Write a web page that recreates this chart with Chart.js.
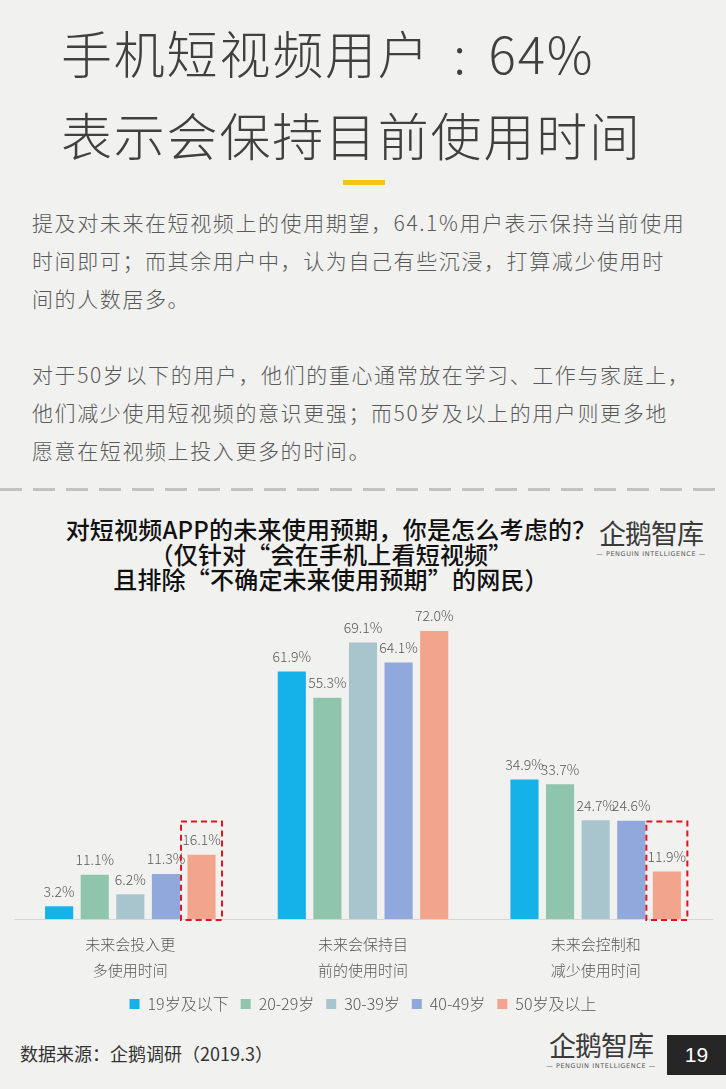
<!DOCTYPE html>
<html>
<head>
<meta charset="utf-8">
<script src="https://cdn.jsdelivr.net/npm/chart.js@4"></script>
<style>
    body { margin: 0; background: #f1f2f0; font-family: "Noto Sans CJK SC", "Noto Sans", sans-serif; }
    .page { position: relative; width: 726px; height: 1089px; overflow: hidden; background: #f1f2f0; }
    .title { position: absolute; left: 61px; top: 11px; font-size: 51px; line-height: 82px; color: #404040; font-weight: 300; white-space: nowrap; letter-spacing: 1.8px; }
    .title .colon { display: inline-block; width: 58px; text-align: center; letter-spacing: 0; }
    .accent { position: absolute; left: 343px; top: 180px; width: 42px; height: 5px; background: #f0c419; }
    .para { position: absolute; left: 32px; font-size: 21px; line-height: 38px; color: #595959; white-space: nowrap; letter-spacing: 1.6px; font-weight: 300; }
    .divider { position: absolute; left: 0; top: 488px; width: 726px; height: 3px;
        background: repeating-linear-gradient(90deg, #c2c2c2 0 22px, transparent 22px 33px); }
    .ctitle { position: absolute; left: 0; width: 662px; top: 516px; text-align: center; font-size: 24px; line-height: 25px; color: #111; font-weight: 500; white-space: nowrap; letter-spacing: 0.2px; }
    .logo { position: absolute; text-align: center; color: #3a3a3a; }
    .logo .cn { font-size: 27px; line-height: 32px; letter-spacing: -1px; }
    .logo .en { font-family: "DejaVu Sans", sans-serif; font-size: 6.5px; letter-spacing: 0.6px; line-height: 10px; color: #555; }
    .chart-box { position: absolute; left: 0; top: 590px; width: 726px; height: 432px; }
    .source { position: absolute; left: 20px; top: 1040px; font-size: 18px; color: #333; white-space: nowrap; }
    .pageno { position: absolute; left: 667px; top: 1035px; width: 59px; height: 40px; background: #262626; color: #fff; font-size: 21px; line-height: 40px; text-align: center; font-family: "Liberation Sans", sans-serif; }
</style>
</head>
<body>
<div class="page">
    <div class="title">手机短视频用户<span class="colon">:</span>64%<br>表示会保持目前使用时间</div>
    <div class="accent"></div>
    <div class="para" style="top:203px">提及对未来在短视频上的使用期望，64.1%用户表示保持当前使用<br>时间即可；而其余用户中，认为自己有些沉浸，打算减少使用时<br>间的人数居多。</div>
    <div class="para" style="top:355px">对于50岁以下的用户，他们的重心通常放在学习、工作与家庭上，<br>他们减少使用短视频的意识更强；而50岁及以上的用户则更多地<br>愿意在短视频上投入更多的时间。</div>
    <div class="divider"></div>
    <div class="ctitle">对短视频APP的未来使用预期，你是怎么考虑的？<br>（仅针对“会在手机上看短视频”<br>且排除“不确定未来使用预期”的网民）</div>
    <div class="logo" style="left:596px; top:517px; width:110px;">
        <div class="cn">企鹅智库</div>
        <div class="en">— PENGUIN INTELLIGENCE —</div>
    </div>
    <div class="chart-box"><canvas id="chart"></canvas></div>
    <div class="source">数据来源：企鹅调研（2019.3）</div>
    <div class="logo" style="left:546px; top:1029px; width:110px;">
        <div class="cn">企鹅智库</div>
        <div class="en">— PENGUIN INTELLIGENCE —</div>
    </div>
    <div class="pageno">19</div>
</div>

<script>
// categories (two-line tick labels)
const categories = [
    ['未来会投入更', '多使用时间'],
    ['未来会保持目', '前的使用时间'],
    ['未来会控制和', '减少使用时间']
];
const seriesNames = ['19岁及以下', '20-29岁', '30-39岁', '40-49岁', '50岁及以上'];
const under19 = [3.2, 61.9, 34.9];
const age20to29 = [11.1, 55.3, 33.7];
const age30to39 = [6.2, 69.1, 24.7];
const age40to49 = [11.3, 64.1, 24.6];
const over50 = [16.1, 72.0, 11.9];
const seriesColors = ['#15b1e9', '#8fc5ad', '#a8c4cc', '#91a8dc', '#f2a48d'];

// bars that get the red dashed highlight: [datasetIndex, dataIndex]
const highlighted = [[4, 0], [4, 2]];

const valueLabels = {
    id: 'valueLabels',
    afterDatasetsDraw(chart) {
        const ctx = chart.ctx;
        ctx.save();
        ctx.font = '300 14px "Noto Sans CJK SC", sans-serif';
        ctx.fillStyle = '#595959';
        ctx.textAlign = 'center';
        ctx.textBaseline = 'bottom';
        chart.data.datasets.forEach((ds, i) => {
            chart.getDatasetMeta(i).data.forEach((bar, j) => {
                ctx.fillText(ds.data[j].toFixed(1) + '%', bar.x, bar.y - 8);
            });
        });
        ctx.restore();
    }
};

const highlightBoxes = {
    id: 'highlightBoxes',
    afterDatasetsDraw(chart) {
        const ctx = chart.ctx;
        const y = chart.scales.y;
        ctx.save();
        ctx.strokeStyle = '#e0141e';
        ctx.lineWidth = 2;
        ctx.setLineDash([6, 4]);
        highlighted.forEach(([di, idx]) => {
            const bar = chart.getDatasetMeta(di).data[idx];
            const top = y.getPixelForValue(24.4);
            const bottom = y.getPixelForValue(0) + 1;
            ctx.strokeRect(bar.x - 20.5, top, 41, bottom - top);
        });
        ctx.restore();
    }
};

const ctx = document.getElementById('chart');
ctx.chart = new Chart(ctx, {
    type: 'bar',
    data: {
        labels: categories,
        datasets: [under19, age20to29, age30to39, age40to49, over50].map((d, i) => ({
            label: seriesNames[i],
            data: d,
            backgroundColor: seriesColors[i],
            categoryPercentage: 0.765,
            barPercentage: 0.79
        }))
    },
    options: {
        responsive: true,
        maintainAspectRatio: false,
        animation: false,
        layout: { padding: { left: 14, right: 14, top: 9, bottom: 0 } },
        plugins: {
            legend: {
                position: 'bottom',
                labels: {
                    boxWidth: 10,
                    boxHeight: 10,
                    padding: 12,
                    color: '#595959',
                    font: { size: 16, family: '"Noto Sans CJK SC", sans-serif', weight: 300 }
                }
            },
            tooltip: { enabled: false }
        },
        scales: {
            y: { display: false, min: 0, max: 80 },
            x: {
                grid: { display: false, drawTicks: false },
                border: { color: '#d6d6d6', width: 1 },
                afterFit(scale) { scale.height -= 11; },
                ticks: {
                    color: '#595959',
                    padding: 12,
                    font: { size: 15, family: '"Noto Sans CJK SC", sans-serif', weight: 300, lineHeight: 1.73 }
                }
            }
        }
    },
    plugins: [valueLabels, highlightBoxes]
});
</script>
</body>
</html>
